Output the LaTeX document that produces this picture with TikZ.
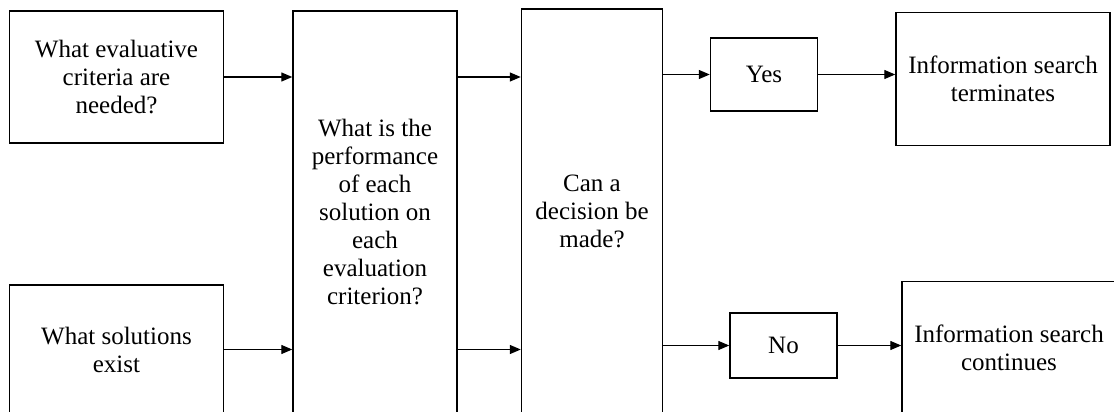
\documentclass[tikz,border=0pt]{standalone}
\usepackage{fontspec}
\setmainfont{Liberation Serif}
\usetikzlibrary{arrows.meta}

\begin{document}
\begin{tikzpicture}[x=1pt,y=-1pt,
    box/.style={draw,line width=1.4pt,align=center,inner sep=0pt,font=\fontsize{25}{28}\selectfont},
    arr/.style={line width=1.3pt,-{Triangle[length=11pt,width=9pt]}}]
    \useasboundingbox (0,0) rectangle (1114,412);
    \node[box,minimum width=214pt,minimum height=132pt] (crit) at (116.5,77) {What evaluative\\criteria are\\needed?};
    \node[box,minimum width=214pt,minimum height=129pt] (sol) at (116.5,349.5) {What solutions\\exist};
    \node[box,minimum width=164pt,minimum height=402pt] (perf) at (375,212) {What is the\\performance\\of each\\solution on\\each\\evaluation\\criterion?};
    \node[box,minimum width=141pt,minimum height=404pt] (dec) at (592,211) {Can a\\decision be\\made?};
    \node[box,minimum width=107pt,minimum height=73pt] (yes) at (764,74.5) {Yes};
    \node[box,minimum width=214pt,minimum height=133pt] (term) at (1003,79) {Information search\\terminates};
    \node[box,minimum width=107pt,minimum height=65pt] (no) at (783.5,345.5) {No};
    \node[box,minimum width=214pt,minimum height=133pt] (cont) at (1009,348) {Information search\\continues};
    \draw[arr] (crit.east) -- (perf.west |- crit.east);
    \draw[arr] (sol.east) -- (perf.west |- sol.east);
    \draw[arr] (perf.east |- crit.east) -- (dec.west |- crit.east);
    \draw[arr] (perf.east |- sol.east) -- (dec.west |- sol.east);
    \draw[arr] (dec.east |- yes.west) -- (yes.west);
    \draw[arr] (yes.east) -- (term.west |- yes.east);
    \draw[arr] (dec.east |- no.west) -- (no.west);
    \draw[arr] (no.east) -- (cont.west |- no.east);
\end{tikzpicture}
\end{document}
